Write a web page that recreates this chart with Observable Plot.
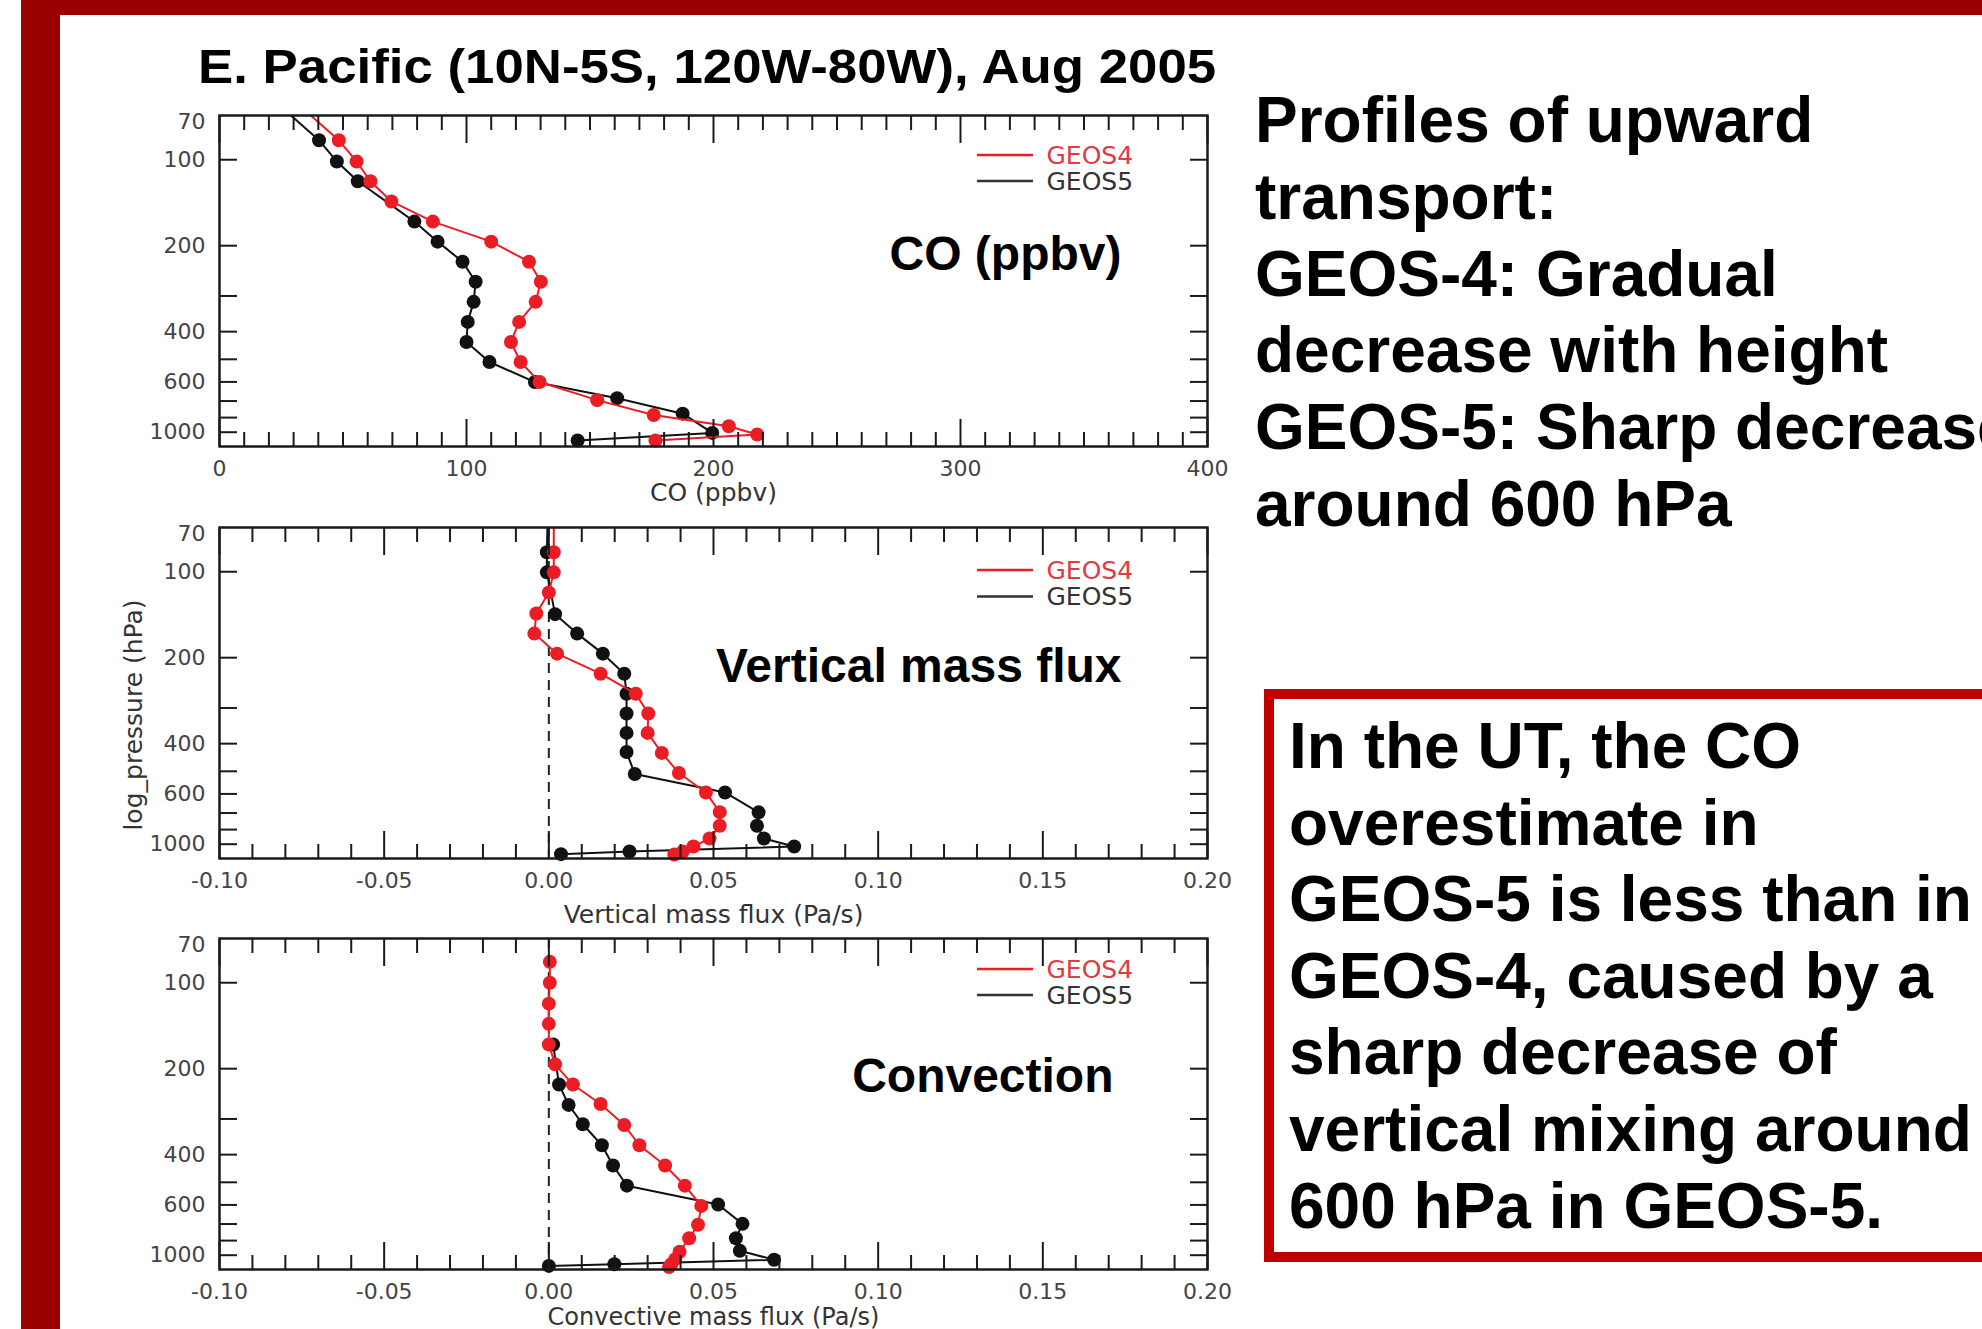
<!DOCTYPE html>
<html>
<head>
<meta charset="utf-8">
<script src="https://cdn.jsdelivr.net/npm/d3@7"></script>
<script src="https://cdn.jsdelivr.net/npm/@observablehq/plot@0.6"></script>
<style>
  html, body { margin: 0; padding: 0; background: #fff; }
  body { width: 1982px; height: 1329px; position: relative; overflow: hidden;
         font-family: "Liberation Sans", Arial, sans-serif; }
  .bar { position: absolute; background: #990000; }
  #title { position: absolute; left: 198px; top: 43px; font-weight: bold; font-size: 48px;
           line-height: 48px; white-space: nowrap; transform: scaleX(1.1); transform-origin: 0 0; color: #000; }
  #notes { position: absolute; left: 1255px; top: 82px; font-weight: bold; font-size: 64px;
           line-height: 76.8px; white-space: nowrap; color: #000; }
  #box { position: absolute; left: 1264px; top: 689px; width: 760px; height: 553px;
         border: 10px solid #c00000; box-sizing: content-box; }
  #boxtext { position: absolute; left: 1289px; top: 708px; font-weight: bold; font-size: 64px;
             line-height: 76.6px; white-space: nowrap; color: #000; }
  .panel { position: absolute; left: 80px; }
</style>
</head>
<body>
<div class="bar" style="left:21px;top:0;width:1961px;height:15px;"></div>
<div class="bar" style="left:21px;top:0;width:39px;height:1329px;"></div>
<div id="title">E. Pacific (10N-5S, 120W-80W), Aug 2005</div>
<div id="notes">Profiles of upward<br>transport:<br>GEOS-4: Gradual<br>decrease with height<br>GEOS-5: Sharp decrease<br>around 600 hPa</div>
<div id="box"></div>
<div id="boxtext">In the UT, the CO<br>overestimate in<br>GEOS-5 is less than in<br>GEOS-4, caused by a<br>sharp decrease of<br>vertical mixing around<br>600 hPa in GEOS-5.</div>
<div id="p1" class="panel"></div>
<div id="p2" class="panel"></div>
<div id="p3" class="panel"></div>
<script>
// ---------------- data (pressure levels in hPa) ----------------
const seriesNames = ["GEOS4", "GEOS5"];

// Panel 1: CO (ppbv)
const coPresG5 = [60, 85.5, 101.4, 119, 164.7, 193.6, 227.6, 267.6, 314.6, 369.8, 434.8, 511, 600.7, 684, 775, 905, 962];
const coValG5  = [20.2, 40.3, 47.5, 56, 78.9, 88.3, 98.4, 103.7, 102.9, 100.5, 100, 109.3, 127.7, 161, 187.5, 199.5, 145];
const coPresG4 = [60, 85.5, 101.4, 119, 140, 164.7, 193.6, 227.6, 267.6, 314.6, 369.8, 434.8, 511, 600.7, 695, 783, 858, 917, 962];
const coValG4  = [28.2, 48.3, 55.5, 61.1, 69.6, 86.4, 110, 125.3, 130.1, 128, 121.3, 118, 121.9, 129.6, 152.9, 175.8, 206.2, 217.7, 176.5];

// Panel 2: Vertical mass flux (Pa/s)
const vmfPresG5 = [60, 85.5, 100.5, 140.8, 164.7, 193.6, 227.6, 267.6, 313.8, 366.8, 427.7, 511, 592.9, 696, 776, 860, 917, 955, 975];
const vmfValG5  = [-0.0003, -0.0006, -0.0006, 0.0019, 0.0086, 0.0164, 0.0229, 0.0236, 0.0236, 0.0236, 0.0236, 0.0261, 0.0535, 0.0637, 0.0632, 0.0653, 0.0745, 0.0245, 0.0037];
const vmfPresG4 = [60, 85.5, 100.5, 118.2, 140, 164.7, 193.6, 227.6, 267.6, 313.8, 366.8, 431, 507, 592.9, 695, 776, 860, 917, 955, 978];
const vmfValG4  = [0.0015, 0.0015, 0.0015, 0, -0.0038, -0.0044, 0.0025, 0.0157, 0.0264, 0.0302, 0.03, 0.0343, 0.0395, 0.0477, 0.0519, 0.0519, 0.0488, 0.0439, 0.0407, 0.0381];

// Panel 3: Convective mass flux (Pa/s)
const cvPresG5 = [164.5, 227.3, 267.8, 313.1, 370.8, 436.4, 513.7, 598, 699, 785, 868, 934, 968, 981];
const cvValG5  = [0.0013, 0.0031, 0.006, 0.0103, 0.0161, 0.0195, 0.0237, 0.0514, 0.0588, 0.0568, 0.058, 0.0684, 0.0199, 0];
const cvPresG4 = [84.5, 100, 118.4, 139.3, 164.5, 193.1, 227.3, 266, 314.9, 370.8, 436.4, 513.7, 604.8, 704.3, 785, 875.4, 929, 968, 990];
const cvValG4  = [0.0003, 0.0003, 0, 0, 0, 0.0019, 0.0073, 0.0157, 0.0229, 0.0275, 0.0353, 0.0413, 0.0463, 0.0453, 0.0426, 0.0397, 0.0384, 0.0372, 0.0365];

// axis ticks / labels
const coTicks = [0, 100, 200, 300, 400];
const fluxTicks = [-0.10, -0.05, 0.00, 0.05, 0.10, 0.15, 0.20];
const yTickMarks = [100, 200, 300, 400, 500, 600, 700, 800, 900];
const yLabelValues = [100, 200, 400, 600, 900];
const yLabelTexts = ["100", "200", "400", "600", "1000"];
const yTopValue = 70, yTopText = "70";
const panelTitles = ["CO (ppbv)", "Vertical mass flux", "Convection"];
const axisTitles = ["CO (ppbv)", "Vertical mass flux (Pa/s)", "Convective mass flux (Pa/s)"];
const yAxisTitle = "log_pressure (hPa)";

// ---------------- styling ----------------
const RED = "#ec1c24", BLACK = "#111111", AXIS = "#1a1a1a", TXT = "#444444";
const W = 1240, ML = 139, MR = 113, MT = 30, FH = 331, MB = 75;
const SANS = "DejaVu Sans";
const yLabelRows = yLabelValues.map((v, i) => ({v, t: yLabelTexts[i]}));

function legendLines(dyRed, dyBlack) {
  return (index, scales, values, dims) => {
    const xr = dims.width - dims.marginRight;
    const y0 = dims.marginTop;
    const g = d3.create("svg:g");
    g.append("line").attr("x1", xr - 230).attr("x2", xr - 174)
      .attr("y1", y0 + dyRed).attr("y2", y0 + dyRed).attr("stroke", RED).attr("stroke-width", 2.5);
    g.append("line").attr("x1", xr - 230).attr("x2", xr - 174)
      .attr("y1", y0 + dyBlack).attr("y2", y0 + dyBlack).attr("stroke", "#333").attr("stroke-width", 2.5);
    return g.node();
  };
}

function makePanel(cfg) {
  const g5 = cfg.pG5.map((p, i) => ({p, v: cfg.vG5[i]}));
  const g4 = cfg.pG4.map((p, i) => ({p, v: cfg.vG4[i]}));
  const inFrame = d => d.p >= 70;
  const tk = {stroke: AXIS, strokeWidth: 2, fill: "none", label: null};
  const txt = {fill: TXT, fontSize: 22, fontFamily: SANS, label: null, tickSize: 0};
  const ylab = {frameAnchor: "left", dx: -14, textAnchor: "end", lineAnchor: "middle",
                fill: TXT, fontSize: 22, fontFamily: SANS};
  const marks = [];
  if (cfg.zero) marks.push(Plot.ruleX([0], {stroke: "#222", strokeWidth: 2, strokeDasharray: "10,7"}));
  marks.push(
    Plot.line(g5, {x: "v", y: "p", stroke: BLACK, strokeWidth: 2, clip: true}),
    Plot.dot(g5, {filter: inFrame, x: "v", y: "p", r: 7, fill: BLACK}),
    Plot.line(g4, {x: "v", y: "p", stroke: RED, strokeWidth: 2, clip: true}),
    Plot.dot(g4, {filter: inFrame, x: "v", y: "p", r: 7, fill: RED}),
    Plot.axisX(cfg.xMinor, {anchor: "bottom", tickSize: -14, ...tk}),
    Plot.axisX(cfg.xMinor, {anchor: "top", tickSize: -14, ...tk}),
    Plot.axisX(cfg.xMajor, {anchor: "bottom", tickSize: -27, ...tk}),
    Plot.axisX(cfg.xMajor, {anchor: "top", tickSize: -27, ...tk}),
    Plot.axisX(cfg.xMajor, {anchor: "bottom", tickPadding: 14, tickFormat: cfg.xFmt, ...txt}),
    Plot.axisY(yTickMarks, {anchor: "left", tickSize: -18, ...tk}),
    Plot.axisY(yTickMarks, {anchor: "right", tickSize: -18, ...tk}),
    Plot.text(yLabelRows, {y: "v", text: "t", ...ylab}),
    Plot.text([{v: yTopValue, t: yTopText}], {y: "v", text: "t", dy: 6, ...ylab}),
    Plot.frame({stroke: AXIS, strokeWidth: 2.5}),
    legendLines(cfg.leg[0], cfg.leg[1]),
    Plot.text([seriesNames[0]], {text: d => d, frameAnchor: "top-right", dx: -161, dy: cfg.leg[0],
      textAnchor: "start", lineAnchor: "middle", fill: "#e03a44", fontSize: 25, fontFamily: SANS}),
    Plot.text([seriesNames[1]], {text: d => d, frameAnchor: "top-right", dx: -161, dy: cfg.leg[1],
      textAnchor: "start", lineAnchor: "middle", fill: "#333", fontSize: 25, fontFamily: SANS}),
    Plot.text([cfg.title], {text: d => d, frameAnchor: "top-right", dx: cfg.titleDx, dy: cfg.titleDy,
      textAnchor: "end", lineAnchor: "middle", fill: "#000", fontSize: 48, fontWeight: "bold",
      fontFamily: "Liberation Sans"}),
    Plot.text([cfg.axisTitle], {text: d => d, frameAnchor: "bottom", dy: cfg.axisDy,
      lineAnchor: "middle", fill: "#333", fontSize: cfg.axisFont, fontFamily: SANS})
  );
  if (cfg.yTitle) {
    marks.push(Plot.text([cfg.yTitle], {text: d => d, frameAnchor: "left", dx: -86, dy: 22, rotate: -90,
      textAnchor: "middle", lineAnchor: "middle", fill: "#333", fontSize: 25, fontFamily: SANS}));
  }
  return Plot.plot({
    width: W, height: MT + FH + MB,
    marginLeft: ML, marginRight: MR, marginTop: MT, marginBottom: MB,
    style: {background: "transparent", overflow: "visible", maxWidth: "none", fontFamily: SANS},
    x: {domain: cfg.xDomain},
    y: {type: "log", domain: [70, 1010], reverse: true},
    marks
  });
}

const fluxMinor = d3.range(-10, 21).map(k => k / 100).filter(v => !fluxTicks.some(t => Math.abs(t - v) < 1e-9));
const coMinor = d3.range(0, 41).map(k => k * 10).filter(v => v % 100 !== 0);
const fmtFlux = d => d.toFixed(2);
const fmtCO = d => String(d);

const panels = [
  {el: "p1", top: 115, xDomain: [0, 400], xMajor: coTicks, xMinor: coMinor, xFmt: fmtCO,
   pG5: coPresG5, vG5: coValG5, pG4: coPresG4, vG4: coValG4, zero: false,
   title: panelTitles[0], titleDx: -86, titleDy: 139, axisTitle: axisTitles[0], axisDy: 46, axisFont: 25, leg: [40, 66]},
  {el: "p2", top: 527, xDomain: [-0.10, 0.20], xMajor: fluxTicks, xMinor: fluxMinor, xFmt: fmtFlux,
   pG5: vmfPresG5, vG5: vmfValG5, pG4: vmfPresG4, vG4: vmfValG4, zero: true,
   title: panelTitles[1], titleDx: -86, titleDy: 139, axisTitle: axisTitles[1], axisDy: 56, axisFont: 25, leg: [43, 69.5], yTitle: yAxisTitle},
  {el: "p3", top: 938, xDomain: [-0.10, 0.20], xMajor: fluxTicks, xMinor: fluxMinor, xFmt: fmtFlux,
   pG5: cvPresG5, vG5: cvValG5, pG4: cvPresG4, vG4: cvValG4, zero: true,
   title: panelTitles[2], titleDx: -94, titleDy: 138, axisTitle: axisTitles[2], axisDy: 48, axisFont: 24, leg: [31, 57]}
];

for (const cfg of panels) {
  const host = document.getElementById(cfg.el);
  host.style.top = (cfg.top - MT) + "px";
  host.appendChild(makePanel(cfg));
}
</script>
</body>
</html>
